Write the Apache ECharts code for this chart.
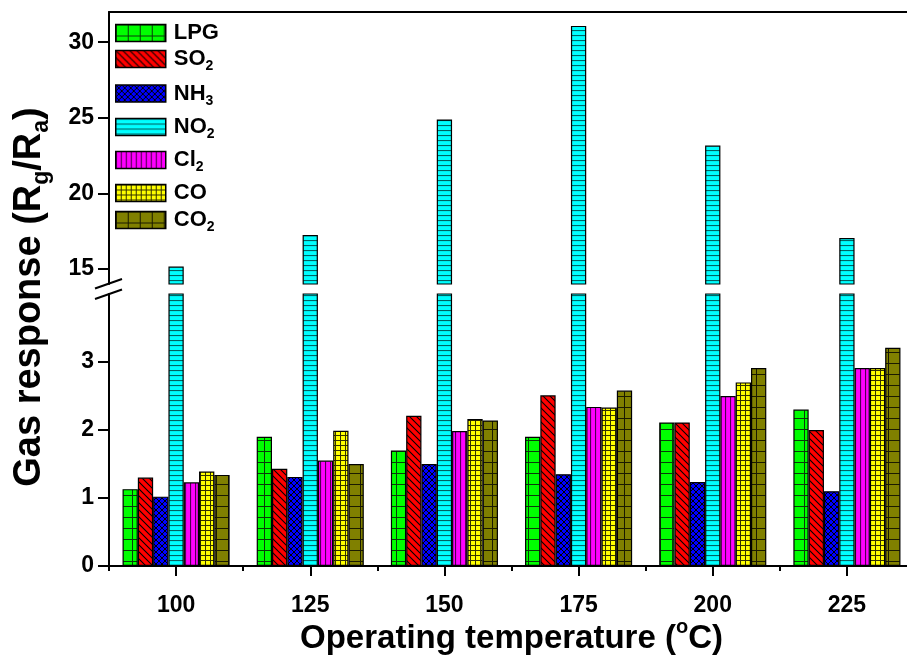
<!DOCTYPE html>
<html><head><meta charset="utf-8">
<script src="https://cdn.jsdelivr.net/npm/echarts@6/dist/echarts.min.js"></script>
<style>html,body{margin:0;padding:0;background:#fff}#c{width:907px;height:657px}</style>
</head><body><div id="c"></div>
<script>
// ---- data ----
const categories = ['100', '125', '150', '175', '200', '225'];
const seriesNames = ['LPG', 'SO2', 'NH3', 'NO2', 'Cl2', 'CO', 'CO2'];
const legendLabels = ['{m|LPG}', '{m|SO}{s|2}', '{m|NH}{s|3}', '{m|NO}{s|2}', '{m|Cl}{s|2}', '{m|CO}', '{m|CO}{s|2}'];
const lpg = [1.13, 1.90, 1.70, 1.90, 2.11, 2.30];
const so2 = [1.30, 1.43, 2.21, 2.51, 2.11, 2.00];
const nh3 = [1.02, 1.31, 1.50, 1.35, 1.235, 1.10];
const no2 = [15.15, 17.24, 24.89, 31.08, 23.16, 17.04];
const cl2 = [1.23, 1.55, 1.985, 2.34, 2.50, 2.91];
const co = [1.39, 1.99, 2.16, 2.33, 2.70, 2.91];
const co2 = [1.34, 1.50, 2.14, 2.58, 2.91, 3.21];
const upperTicks = [15, 20, 25, 30];
const upperMinor = [17.5, 22.5, 27.5];
const lowerTicks = [0, 1, 2, 3];
const lowerMinor = [0.5, 1.5, 2.5, 3.5];

// ---- layout / style ----
const FONT = "'Liberation Sans', Arial, sans-serif";
const GL = 109, GR = -7, UP_TOP = 12, UP_H = 272, LOW_TOP = 294, LOW_H = 272;
const LEG_CENTERS = [33, 59, 93.5, 127, 160, 193, 220];

function pattern(bg, w, h, draw) {
  const c = document.createElement('canvas');
  c.width = w; c.height = h;
  const g = c.getContext('2d');
  g.fillStyle = bg; g.fillRect(0, 0, w, h);
  draw(g, w, h);
  return { image: c, repeat: 'repeat' };
}
function line(g, x1, y1, x2, y2, col, lw) {
  g.strokeStyle = col; g.lineWidth = lw; g.beginPath(); g.moveTo(x1, y1); g.lineTo(x2, y2); g.stroke();
}
const fills = [
  pattern('#00ff00', 12, 11, (g, w, h) => { line(g, 0.5, 0, 0.5, h, '#0a3a0a', 1); line(g, 0, 0.5, w, 0.5, '#0a3a0a', 1); }),
  pattern('#ff0000', 7, 7, (g, w, h) => { line(g, -1, -1, 8, 8, '#000', 1.1); line(g, -2, 5, 2, 9, '#000', 1.1); line(g, 5, -2, 9, 2, '#000', 1.1); }),
  pattern('#0000ff', 6, 6, (g, w, h) => { line(g, -1, -1, 7, 7, '#000', 1); line(g, -1, 7, 7, -1, '#000', 1); }),
  pattern('#00ffff', 6, 5, (g, w, h) => { line(g, 0, 0.5, w, 0.5, '#006464', 1.2); }),
  pattern('#ff00ff', 5, 6, (g, w, h) => { line(g, 0.5, 0, 0.5, h, '#500050', 1.2); }),
  pattern('#ffff00', 5, 5, (g, w, h) => { line(g, 0.5, 0, 0.5, h, '#333300', 1); line(g, 0, 0.5, w, 0.5, '#333300', 1); }),
  pattern('#808000', 12, 11, (g, w, h) => { line(g, 0.5, 0, 0.5, h, '#1a1a00', 1); line(g, 0, 0.5, w, 0.5, '#1a1a00', 1); })
];
const lowerData = [lpg, so2, nh3, no2, cl2, co, co2];

const axisLineStyle = { color: '#000', width: 2 };
const labelStyle = { color: '#000', fontSize: 23, fontWeight: 'bold', fontFamily: FONT };
const BW = 15.3;

const series = seriesNames.map((n, i) => ({
  name: n, type: 'bar', xAxisIndex: 0, yAxisIndex: 2,
  data: lowerData[i], barWidth: BW, barGap: '0%',
  itemStyle: { color: fills[i], borderColor: '#000', borderWidth: 1.2 },
  clip: true
}));
series.push({
  name: 'NO2', type: 'bar', xAxisIndex: 2, yAxisIndex: 0,
  data: no2, barWidth: BW,
  itemStyle: { color: fills[3], borderColor: '#000', borderWidth: 1.2 },
  clip: true
});

const legends = seriesNames.map((n, i) => {
  const hasSub = legendLabels[i].indexOf('{s|') >= 0;
  return {
    data: [n], orient: 'vertical', left: 115,
    top: LEG_CENTERS[i] - (hasSub ? 14.5 : 11),
    padding: 0, itemWidth: 50, itemHeight: 17, selectedMode: false, icon: 'rect',
    itemStyle: { borderColor: '#000', borderWidth: 1.5 },
    formatter: () => legendLabels[i],
    textStyle: {
      color: '#000', fontFamily: FONT, fontWeight: 'bold',
      rich: {
        m: { fontSize: 22, fontWeight: 'bold', fontFamily: FONT, color: '#000', lineHeight: 22, padding: [0, 0, 0, 3] },
        s: { fontSize: 14, fontWeight: 'bold', fontFamily: FONT, color: '#000', lineHeight: 14, padding: [15, 0, 0, 0] }
      }
    }
  };
});

const option = {
  animation: false,
  backgroundColor: '#fff',
  grid: [
    { left: GL, right: GR, top: UP_TOP, height: UP_H, outerBoundsMode: 'none', containLabel: false },
    { left: GL, right: GR, top: LOW_TOP, height: LOW_H, outerBoundsMode: 'none', containLabel: false }
  ],
  legend: legends,
  xAxis: [
    {
      type: 'category', gridIndex: 1, data: categories, position: 'bottom',
      axisLine: { show: true, onZero: false, lineStyle: axisLineStyle },
      axisTick: { show: true, alignWithLabel: true, length: 10, lineStyle: { color: '#000', width: 2 } },
      axisLabel: Object.assign({ margin: 28 }, labelStyle),
      name: '{t|Operating temperature (}{p|o}{t|C)}',
      nameLocation: 'middle', nameGap: 50,
      nameTextStyle: {
        rich: {
          t: { fontSize: 33, fontWeight: 'bold', fontFamily: FONT, color: '#000', lineHeight: 36 },
          p: { fontSize: 20, fontWeight: 'bold', fontFamily: FONT, color: '#000', lineHeight: 20, padding: [0, 0, 22, 0] }
        }
      }
    },
    {
      type: 'category', gridIndex: 1, data: categories, position: 'bottom',
      axisLine: { show: false, onZero: false },
      axisTick: { show: true, length: 5, lineStyle: { color: '#000', width: 2 } },
      axisLabel: { show: false }
    },
    {
      type: 'category', gridIndex: 0, data: categories, position: 'top',
      axisLine: { show: true, onZero: false, lineStyle: axisLineStyle },
      axisTick: { show: false }, axisLabel: { show: false }
    }
  ],
  yAxis: [
    {
      type: 'value', gridIndex: 0, min: 14, max: 32,
      axisLine: { show: true, lineStyle: axisLineStyle },
      axisTick: { show: true, length: 11, customValues: upperTicks, lineStyle: { color: '#000', width: 2 } },
      axisLabel: Object.assign({ customValues: upperTicks, margin: 15 }, labelStyle),
      splitLine: { show: false }
    },
    {
      type: 'value', gridIndex: 0, min: 14, max: 32,
      axisLine: { show: false },
      axisTick: { show: true, length: 6, customValues: upperMinor, lineStyle: { color: '#000', width: 2 } },
      axisLabel: { show: false }, splitLine: { show: false }
    },
    {
      type: 'value', gridIndex: 1, min: 0, max: 4,
      axisLine: { show: true, lineStyle: axisLineStyle },
      axisTick: { show: true, length: 11, customValues: lowerTicks, lineStyle: { color: '#000', width: 2 } },
      axisLabel: Object.assign({ customValues: lowerTicks, margin: 15 }, labelStyle),
      splitLine: { show: false }
    },
    {
      type: 'value', gridIndex: 1, min: 0, max: 4,
      axisLine: { show: false },
      axisTick: { show: true, length: 6, customValues: lowerMinor, lineStyle: { color: '#000', width: 2 } },
      axisLabel: { show: false }, splitLine: { show: false }
    }
  ],
  graphic: [
    { type: 'line', shape: { x1: GL - 14, y1: 288.5, x2: GL + 13, y2: 279 }, style: { stroke: '#000', lineWidth: 2 }, z: 100 },
    { type: 'line', shape: { x1: GL - 14, y1: 299, x2: GL + 13, y2: 289.5 }, style: { stroke: '#000', lineWidth: 2 }, z: 100 },
    {
      type: 'text', x: 30, y: 297, rotation: Math.PI / 2, z: 100,
      style: {
        text: '{t|Gas response (R}{s|g}{t|/R}{s|a}{t|)}',
        align: 'center', verticalAlign: 'middle',
        rich: {
          t: { fontSize: 38, fontWeight: 'bold', fontFamily: FONT, fill: '#000', lineHeight: 40 },
          s: { fontSize: 23, fontWeight: 'bold', fontFamily: FONT, fill: '#000', lineHeight: 23, padding: [23, 0, 0, 0] }
        }
      }
    }
  ],
  series: series
};

const chart = echarts.init(document.getElementById('c'), null, { renderer: 'canvas' });
chart.setOption(option);
</script>
</body></html>
